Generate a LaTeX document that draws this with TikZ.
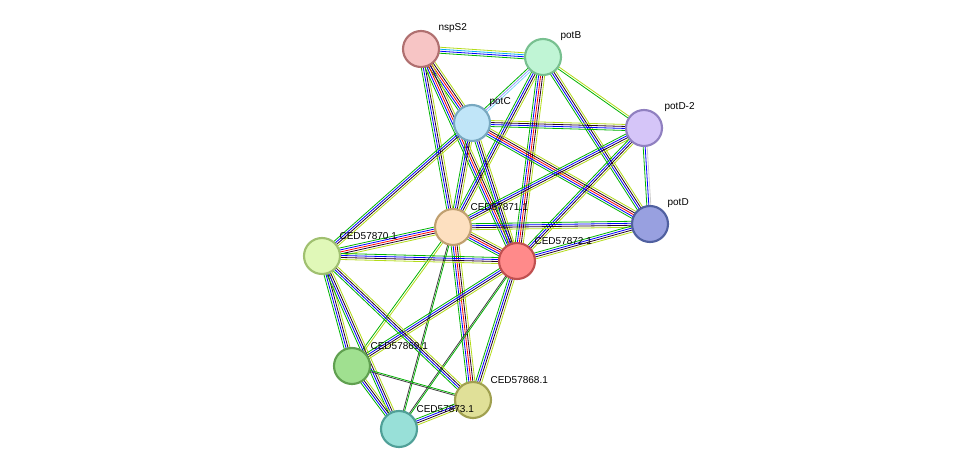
\documentclass[tikz,border=0pt]{standalone}
\usepackage{fontspec}
\setmainfont{Liberation Sans}
\usetikzlibrary{calc}
\begin{document}
\begin{tikzpicture}[x=0.75pt,y=-0.75pt,
  prot/.style={circle,draw,line width=1.6pt,minimum size=27pt,inner sep=0pt},
  lbl/.style={font=\fontsize{7.5}{9}\selectfont,anchor=south west,inner sep=1pt},
  eg/.style={line width=0.6pt}]
\useasboundingbox (0,0) rectangle (976,475);
\coordinate (nspS2) at (421,49);
\coordinate (potB) at (543,57);
\coordinate (potC) at (472,123);
\coordinate (potD2) at (644,128);
\coordinate (potD) at (650,224);
\coordinate (c71) at (453,227);
\coordinate (c72) at (517,261);
\coordinate (c70) at (322,256);
\coordinate (c69) at (352,366);
\coordinate (c68) at (473,400);
\coordinate (c73) at (399,429);
\newcommand{\bund}[3]{%
  \edef\tmplist{#3}%
  \foreach \c/\o in \tmplist {%
    \draw[eg,draw=\c] ($(#1)!\o pt!90:(#2)$) -- ($(#2)!\o pt!-90:(#1)$);}}
\def\lstd{green!70!black/-2.25,blue/-0.75,black!70!violet/0.75,yellow!70!green/2.25}
\def\lred{green!70!black/-3,blue/-1.5,red/0,black!70!violet/1.5,yellow!70!green/3}
\def\lfew{green!70!black/-0.75,yellow!70!green/0.75}
\def\ldk{black!75/-0.4,green!70!black/0.6}
\bund{nspS2}{potB}{green!70!black/-2.25,blue/-0.75,cyan/0.75,yellow!70!green/2.25}
\bund{nspS2}{potC}{\lred}
\bund{nspS2}{c71}{\lstd}
\bund{nspS2}{c72}{\lred}
\bund{potB}{potC}{green!70!black/-1.5,blue!40/0,cyan!50/1.5}
\bund{potB}{potD2}{\lfew}
\bund{potB}{potD}{\lstd}
\bund{potB}{c71}{\lstd}
\bund{potB}{c72}{\lred}
\bund{potC}{potD2}{\lstd}
\bund{potC}{potD}{\lred}
\bund{potC}{c71}{\lstd}
\bund{potC}{c72}{\lstd}
\bund{potC}{c70}{\lstd}
\bund{potD2}{potD}{green!70!black/-1.5,blue/0,black!20/1.5}
\bund{potD2}{c71}{\lstd}
\bund{potD2}{c72}{\lstd}
\bund{potD}{c71}{\lstd}
\bund{potD}{c72}{\lstd}
\bund{c71}{c72}{\lred}
\bund{c71}{c70}{\lred}
\bund{c71}{c69}{\lfew}
\bund{c71}{c68}{\lred}
\bund{c71}{c73}{\ldk}
\bund{c72}{c70}{\lstd}
\bund{c72}{c69}{\lstd}
\bund{c72}{c68}{\lstd}
\bund{c72}{c73}{\ldk}
\bund{c70}{c69}{\lstd}
\bund{c70}{c68}{\lstd}
\bund{c70}{c73}{\lstd}
\bund{c69}{c68}{\ldk}
\bund{c69}{c73}{\lstd}
\bund{c68}{c73}{\lstd}
\node[prot,fill={rgb,255:red,247;green,197;blue,197},draw={rgb,255:red,176;green,112;blue,112}] (n1) at (nspS2) {};
\node[prot,fill={rgb,255:red,192;green,245;blue,213},draw={rgb,255:red,120;green,192;blue,144}] (n2) at (potB) {};
\node[prot,fill={rgb,255:red,192;green,229;blue,248},draw={rgb,255:red,120;green,168;blue,192}] (n3) at (potC) {};
\node[prot,fill={rgb,255:red,213;green,197;blue,248},draw={rgb,255:red,144;green,128;blue,192}] (n4) at (potD2) {};
\node[prot,fill={rgb,255:red,152;green,160;blue,224},draw={rgb,255:red,80;green,96;blue,160}] (n5) at (potD) {};
\node[prot,fill={rgb,255:red,253;green,224;blue,192},draw={rgb,255:red,192;green,160;blue,112}] (n6) at (c71) {};
\node[prot,fill={rgb,255:red,255;green,138;blue,138},draw={rgb,255:red,192;green,80;blue,80}] (n7) at (c72) {};
\node[prot,fill={rgb,255:red,224;green,248;blue,184},draw={rgb,255:red,160;green,192;blue,112}] (n8) at (c70) {};
\node[prot,fill={rgb,255:red,160;green,224;blue,144},draw={rgb,255:red,96;green,160;blue,80}] (n9) at (c69) {};
\node[prot,fill={rgb,255:red,224;green,224;blue,152},draw={rgb,255:red,160;green,160;blue,80}] (n10) at (c68) {};
\node[prot,fill={rgb,255:red,152;green,224;blue,216},draw={rgb,255:red,80;green,160;blue,152}] (n11) at (c73) {};
\node[lbl] at (437,34) {nspS2};
\node[lbl] at (559,42) {potB};
\node[lbl] at (488,108) {potC};
\node[lbl] at (663,113) {potD-2};
\node[lbl] at (666,209) {potD};
\node[lbl] at (469,212) {CED57871.1};
\node[lbl] at (533,246) {CED57872.1};
\node[lbl] at (338,241) {CED57870.1};
\node[lbl] at (369,351) {CED57869.1};
\node[lbl] at (489,385) {CED57868.1};
\node[lbl] at (415,414) {CED57873.1};
\end{tikzpicture}
\end{document}
